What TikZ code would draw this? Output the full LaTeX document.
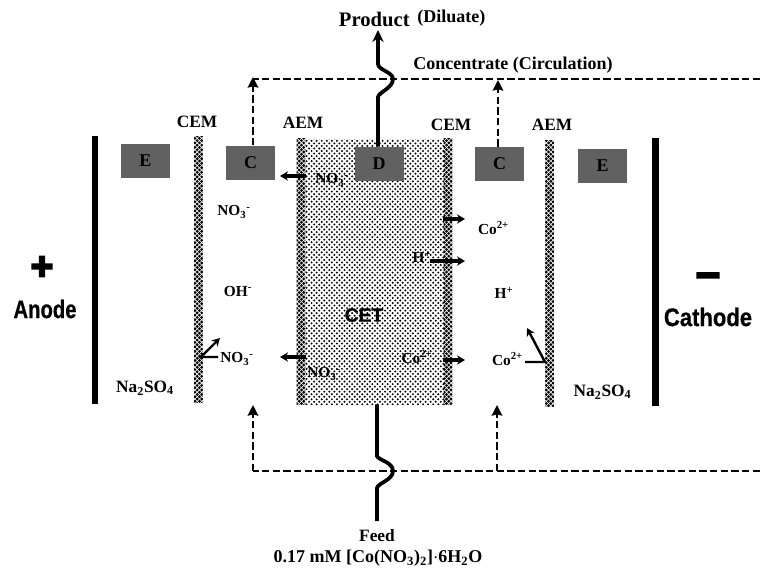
\documentclass[tikz,border=0pt]{standalone}
\usepackage{fontspec}
\setmainfont{Liberation Serif}
\newfontfamily\heavyfont[FakeBold=0.6]{Liberation Sans Bold}
\newfontfamily\signfont[FakeBold=5]{Liberation Sans Bold}
\usetikzlibrary{patterns,arrows.meta}
\pgfdeclarepatternformonly{resindots}{\pgfqpoint{-1pt}{-1pt}}{\pgfqpoint{3.8pt}{3.8pt}}{\pgfqpoint{3.8pt}{3.8pt}}{
  \pgfpathcircle{\pgfqpoint{0pt}{0pt}}{0.82pt}
  \pgfpathcircle{\pgfqpoint{1.9pt}{1.9pt}}{0.82pt}
  \pgfusepath{fill}}
\pgfdeclarepatternformonly{memdots}{\pgfqpoint{-1.5pt}{-1.5pt}}{\pgfqpoint{3.4pt}{3.4pt}}{\pgfqpoint{3.4pt}{3.4pt}}{
  \pgfpathcircle{\pgfqpoint{0pt}{0pt}}{1.2pt}
  \pgfpathcircle{\pgfqpoint{1.7pt}{1.7pt}}{1.2pt}
  \pgfusepath{fill}}
\tikzset{
  x=0.75pt,y=-0.75pt,
  lab/.style={font=\bfseries\fontsize{13}{15}\selectfont,inner sep=0pt},
  labw/.style={font=\bfseries\fontsize{13.5}{15}\selectfont,inner sep=0pt},
  ion/.style={font=\bfseries\fontsize{11.5}{13}\selectfont,inner sep=0pt},
  salt/.style={font=\bfseries\fontsize{13}{15}\selectfont,inner sep=0pt},
  bigl/.style={font=\bfseries\fontsize{15.5}{17}\selectfont,inner sep=0pt},
  elec/.style={font=\heavyfont\fontsize{19}{21}\selectfont,inner sep=0pt},
  sign/.style={font=\signfont\fontsize{29}{29}\selectfont,inner sep=0pt},
  electrode/.style={fill=black,draw=none,rectangle,inner sep=0pt,minimum width=4.6pt},
  membrane/.style={draw=none,pattern=memdots,pattern color=black,inner sep=0pt,minimum width=6.6pt},
  resin/.style={draw=none,pattern=resindots,pattern color=black,inner sep=0pt},
  portbox/.style={draw=none,fill=black!62,inner sep=0pt,minimum width=36.75pt,minimum height=25.5pt,font=\bfseries\fontsize{13.5}{15}\selectfont},
  flow/.style={line width=2.8pt,-{Stealth[length=9pt,width=8.5pt]}},
  flowline/.style={line width=2.8pt},
  dashline/.style={line width=1.3pt,dash pattern=on 5.5pt off 2.5pt},
  dasharrow/.style={dashline,-{Stealth[length=8pt,width=8pt,inset=1pt]}},
  ionarrow/.style={line width=2.4pt,-{Stealth[length=6pt,width=7pt]}},
  bentarrow/.style={line width=1.8pt,-{Stealth[length=6pt,width=6.5pt]}},
}
\begin{document}
\begin{tikzpicture}
\useasboundingbox (0,0) rectangle (760,569);
% stack
\node[resin,minimum width=105pt,minimum height=198.75pt] (cet) at (375,271.5) {};
\node[electrode,minimum height=201pt] (anode) at (95,270) {};
\node[electrode,minimum height=201pt] (cathode) at (655.5,272) {};
\node[membrane,minimum height=199.5pt] (cem1) at (198.5,269) {};
\node[membrane,minimum height=199.5pt] (aem1) at (301,271) {};
\node[membrane,minimum height=199.5pt] (cem2) at (448,271.5) {};
\node[membrane,minimum height=199.5pt] (aem2) at (549.5,273) {};
% ports
\node[portbox] (e1) at (145.5,161) {E};
\node[portbox] (c1) at (250.5,162.5) {C};
\node[portbox] (d) at (379,164) {D};
\node[portbox] (c2) at (499.5,164) {C};
\node[portbox] (e2) at (602.5,166) {E};
% circulation
\coordinate (topend) at (760,79);
\coordinate (topl) at (253,77);
\coordinate (topr) at (498,80);
\coordinate (botend) at (760,471);
\coordinate (botl) at (253,471);
\coordinate (botr) at (497,471);
\coordinate (botlt) at (253,405);
\coordinate (botrt) at (497,405);
\draw[dashline] (topend) -- (253,79);
\draw[dashline] (botend) -- (botl);
\draw[dasharrow] (c1.north -| topl) -- (topl);
\draw[dasharrow] (c2.north -| topr) -- (topr);
\draw[dasharrow] (botl) -- (botlt);
\draw[dasharrow] (botr) -- (botrt);
% product
\coordinate (prodtip) at (378,30);
\coordinate (feedend) at (377,521);
\draw[flow] (d.north -| prodtip) -- (378,97) .. controls (379,92) and (393,88) .. (393,79) .. controls (393,72) and (378,70) .. (378,64) -- (prodtip);
\draw[flowline] (cet.south -| feedend) -- (377,456) .. controls (378,460) and (393,462) .. (393,471) .. controls (393,480) and (378,483) .. (377,488) -- (feedend);
% texts
\node[bigl,anchor=east] (prod) at (410,19) {Product};
\node[labw,anchor=west] (dil) at (417,18) {(Diluate)};
\node[labw] (conc) at (513,65) {Concentrate (Circulation)};
\node[lab] (cemA) at (197,122) {CEM};
\node[lab] (aemA) at (303,123) {AEM};
\node[lab] (cemB) at (451,125) {CEM};
\node[lab] (aemB) at (552,125) {AEM};
\node[inner sep=0pt,font=\heavyfont\fontsize{14.5}{16}\selectfont] (cetl) at (364,315) {CET};
\node[lab] (feed) at (377,536) {Feed};
\node[labw] (conc2) at (378,558) {0.17 mM [Co(NO\textsubscript{3})\textsubscript{2}]$\cdot$6H\textsubscript{2}O};
\node[salt] (na1) at (145,388) {Na\textsubscript{2}SO\textsubscript{4}};
\node[salt] (na2) at (602.5,392) {Na\textsubscript{2}SO\textsubscript{4}};
\node[ion] (no1) at (332,180) {NO\textsubscript{3}\textsuperscript{-}};
\node[ion] (no2) at (234,212) {NO\textsubscript{3}\textsuperscript{-}};
\node[ion] (oh) at (238,291) {OH\textsuperscript{-}};
\node[ion,anchor=west] (no3) at (220,359) {NO\textsubscript{3}\textsuperscript{-}};
\node[ion] (no4) at (324,374) {NO\textsubscript{3}\textsuperscript{-}};
\node[ion] (co1) at (493.5,228) {Co\textsuperscript{2+}};
\node[ion] (h1) at (422,257) {H\textsuperscript{+}};
\node[ion] (h2) at (504,293) {H\textsuperscript{+}};
\node[ion] (co2) at (417,357) {Co\textsuperscript{2+}};
\node[ion] (co3) at (507.5,359) {Co\textsuperscript{2+}};
% ion arrows
\draw[ionarrow] (aem1.east |- 0,176) -- (280,176);
\draw[ionarrow] (aem1.east |- 0,357) -- (280,357);
\draw[ionarrow] (cem2.west |- 0,219) -- (465,219);
\draw[ionarrow] (430,261) -- (465,261);
\draw[ionarrow] (cem2.west |- 0,360) -- (465,360);
\coordinate (no3l) at (218,357);
\draw[bentarrow] (no3l) -- (201,357) -- (220,338);
\coordinate (co3r) at (525,362);
\draw[bentarrow] (co3r) -- (545,362) -- (527,328);
% electrodes labels
\node[sign] (plus) at (42,268) {+};
\node[elec,xscale=0.8] (an) at (45,309) {Anode};
\node[sign,font=\signfont\fontsize{32}{32}\selectfont] (minus) at (708,280) {–};
\node[elec,xscale=0.87] (ca) at (708,317) {Cathode};
\end{tikzpicture}
\end{document}
